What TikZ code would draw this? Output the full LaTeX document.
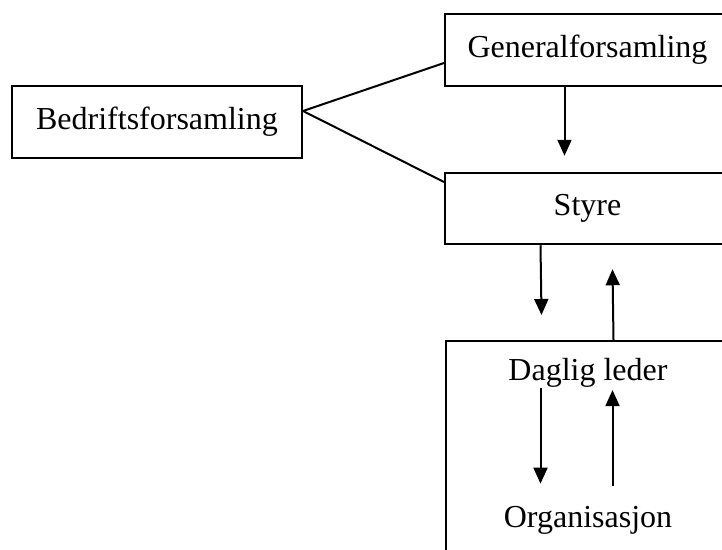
\documentclass[tikz,border=0pt]{standalone}
\usepackage{fontspec}
\setmainfont{Liberation Serif}
\usetikzlibrary{arrows.meta}
\begin{document}
\begin{tikzpicture}[x=1pt,y=-1pt,
  box/.style={draw=black, line width=2pt, rectangle, inner sep=0pt, font=\fontsize{32}{38}\selectfont},
  lbl/.style={inner sep=0pt, font=\fontsize{32}{38}\selectfont},
  link/.style={draw=black, line width=2pt},
  arr/.style={draw=black, line width=2pt, -{Triangle[width=14pt,length=16pt]}}]
\useasboundingbox (0,0) rectangle (722,549);
\clip (0,0) rectangle (722,549);
\fill[white] (0,0) rectangle (722,549);
\node[box, minimum width=290pt, minimum height=72pt] (bed) at (157,122) {Bedriftsforsamling};
\node[box, minimum width=285pt, minimum height=72pt] (gen) at (587.5,50) {Generalforsamling};
\node[box, minimum width=285pt, minimum height=71.5pt] (sty) at (587.5,208.5) {Styre};
\node[box, minimum width=285pt, minimum height=260pt, anchor=north west] (dag) at (445,340) {};
\node[lbl, anchor=base] (dl) at (588,380) {Daglig leder};
\node[lbl, anchor=base] (org) at (588,527) {Organisasjon};
\draw[link] ([yshift=11pt]bed.east) -- ([yshift=-13pt]gen.west);
\draw[link] ([yshift=11pt]bed.east) -- ([yshift=26.5pt]sty.west);
\draw[arr] ([xshift=-23pt]gen.south) -- ([xshift=-23pt,yshift=16pt]sty.north);
\draw[arr] ([xshift=-47pt]sty.south) -- ([xshift=-47pt,yshift=25pt]dag.north);
\draw[arr] ([xshift=25pt]dag.north) -- ([xshift=25pt,yshift=-24pt]sty.south);
\draw[arr] ([xshift=-47.5pt,yshift=-1pt]dl.south) -- ([xshift=-47.5pt,yshift=22pt]org.north);
\draw[arr] ([xshift=24.5pt,yshift=20pt]org.north) -- ([xshift=24.5pt,yshift=-3pt]dl.south);
\end{tikzpicture}
\end{document}
